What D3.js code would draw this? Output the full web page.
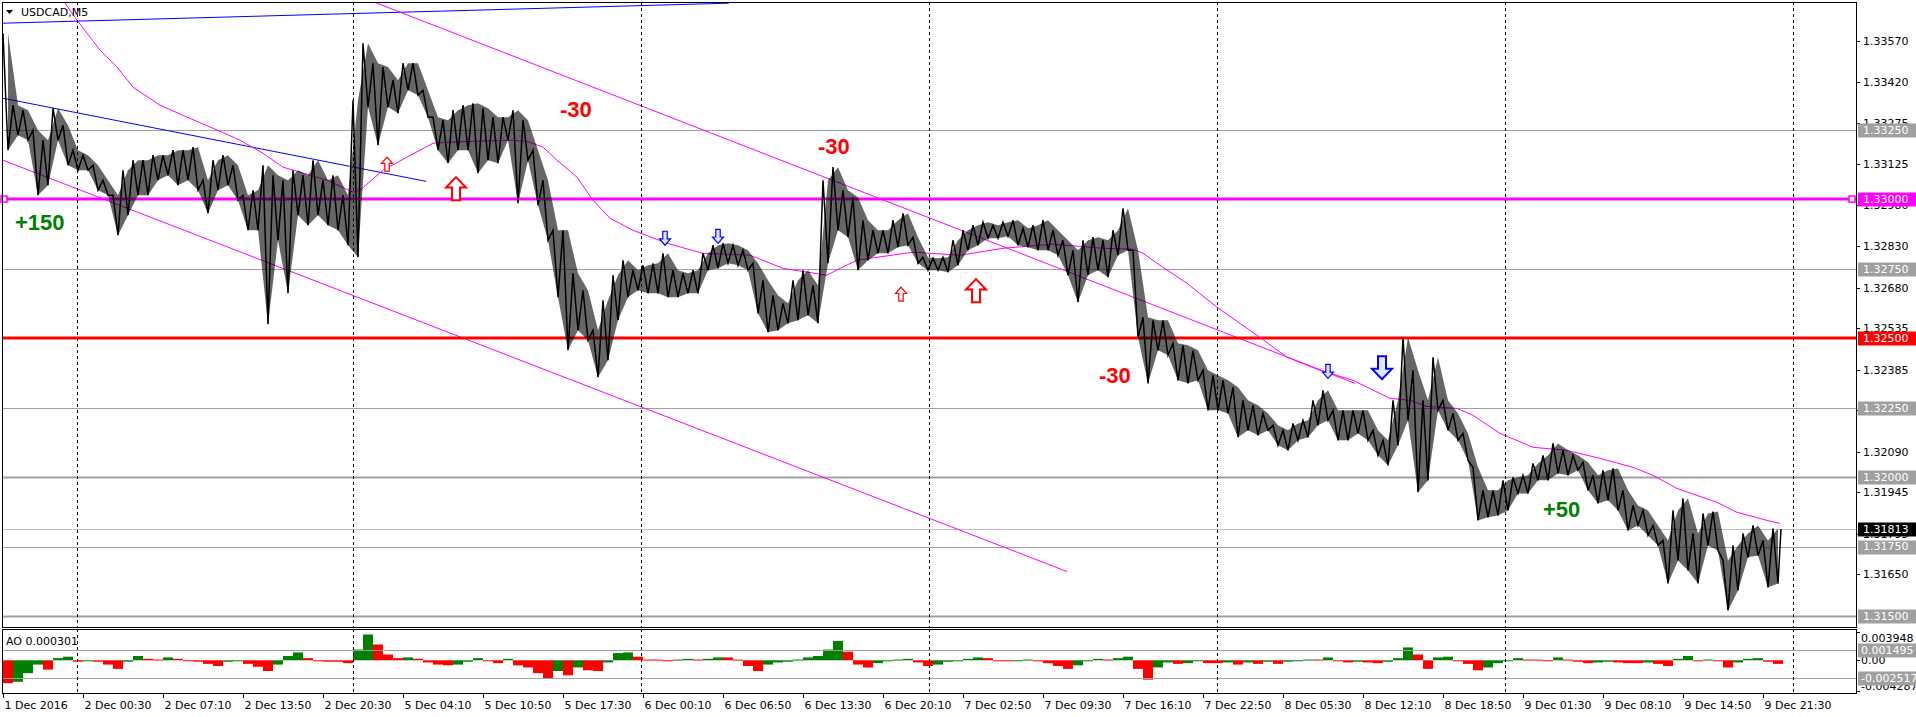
<!DOCTYPE html>
<html><head><meta charset="utf-8">
<script src="https://cdn.jsdelivr.net/npm/d3@7"></script>
<style>body{margin:0;background:#fff;} svg{display:block;}</style>
</head><body><svg id="c" width="1916" height="717"></svg>
<script>
// ---------- DATA ----------
const symbolTitle = "USDCAD,M5";
const aoTitle = "AO 0.000301";
const barStep = 10; // each sample covers 10 M5 bars
const priceHigh = [
1.33597,1.33338,1.33320,1.33248,1.33212,1.33327,1.33266,1.33176,1.33158,1.33122,
1.33068,1.33014,1.33104,1.33140,1.33140,1.33158,1.33158,1.33176,1.33176,1.33187,
1.33068,1.33140,1.33158,1.33122,1.33014,1.33032,1.33122,1.33086,1.33068,1.33104,
1.33086,1.33140,1.33068,1.33086,1.33014,1.33356,1.33561,1.33489,1.33475,1.33428,
1.33489,1.33489,1.33392,1.33295,1.33284,1.33320,1.33338,1.33345,1.33327,1.33295,
1.33295,1.33320,1.33284,1.33176,1.33068,1.32888,1.32888,1.32733,1.32672,1.32528,
1.32636,1.32726,1.32780,1.32744,1.32762,1.32769,1.32805,1.32744,1.32733,1.32744,
1.32805,1.32834,1.32841,1.32834,1.32816,1.32769,1.32708,1.32654,1.32625,1.32708,
1.32744,1.32690,1.33068,1.33115,1.33032,1.33007,1.32924,1.32888,1.32888,1.32924,
1.32949,1.32863,1.32791,1.32787,1.32791,1.32852,1.32888,1.32906,1.32917,1.32906,
1.32917,1.32924,1.32895,1.32906,1.32924,1.32888,1.32852,1.32816,1.32852,1.32863,
1.32852,1.32888,1.32967,1.32816,1.32575,1.32564,1.32564,1.32481,1.32474,1.32456,
1.32384,1.32366,1.32348,1.32323,1.32276,1.32258,1.32229,1.32186,1.32168,1.32193,
1.32204,1.32276,1.32312,1.32240,1.32240,1.32240,1.32240,1.32168,1.32132,1.32276,
1.32503,1.32384,1.32276,1.32431,1.32276,1.32229,1.32157,1.32035,1.31952,1.31952,
1.31988,1.31999,1.32006,1.32049,1.32078,1.32121,1.32096,1.32078,1.32053,1.32006,
1.32024,1.32031,1.31952,1.31898,1.31880,1.31826,1.31772,1.31880,1.31923,1.31797,
1.31869,1.31876,1.31700,1.31754,1.31797,1.31826,1.31772,1.31815];
const priceLow = [
1.33176,1.33230,1.33212,1.33014,1.33050,1.33212,1.33122,1.33104,1.33104,1.33032,
1.33014,1.32870,1.32942,1.33014,1.33014,1.33068,1.33086,1.33050,1.33068,1.33032,
1.32949,1.33032,1.33050,1.32996,1.32888,1.32888,1.32550,1.32852,1.32661,1.32942,
1.32906,1.32942,1.32906,1.32888,1.32834,1.32791,1.33331,1.33194,1.33331,1.33309,
1.33392,1.33374,1.33295,1.33176,1.33129,1.33176,1.33176,1.33093,1.33140,1.33129,
1.33212,1.32985,1.33140,1.32978,1.32852,1.32647,1.32456,1.32528,1.32492,1.32359,
1.32420,1.32564,1.32647,1.32672,1.32661,1.32661,1.32647,1.32647,1.32661,1.32661,
1.32744,1.32751,1.32769,1.32762,1.32744,1.32589,1.32521,1.32528,1.32553,1.32564,
1.32582,1.32553,1.32769,1.32888,1.32863,1.32744,1.32780,1.32805,1.32805,1.32827,
1.32834,1.32769,1.32744,1.32744,1.32737,1.32762,1.32816,1.32834,1.32859,1.32859,
1.32866,1.32834,1.32827,1.32816,1.32816,1.32798,1.32726,1.32629,1.32726,1.32744,
1.32719,1.32798,1.32816,1.32503,1.32337,1.32456,1.32438,1.32348,1.32337,1.32348,
1.32240,1.32240,1.32229,1.32143,1.32168,1.32150,1.32168,1.32114,1.32096,1.32132,
1.32143,1.32186,1.32204,1.32132,1.32132,1.32157,1.32132,1.32078,1.32042,1.32114,
1.32204,1.31945,1.31988,1.32240,1.32168,1.32132,1.32060,1.31844,1.31855,1.31862,
1.31880,1.31941,1.31941,1.31988,1.31988,1.32013,1.32006,1.32024,1.31952,1.31905,
1.31916,1.31880,1.31808,1.31826,1.31790,1.31754,1.31617,1.31700,1.31664,1.31617,
1.31754,1.31736,1.31520,1.31592,1.31711,1.31718,1.31603,1.31617];
const lastBar = 1778;
const lastClose = 1.31813;

const aoValues = [
-3.2,-3.0,-1.8,-0.6,-1.3,0.3,0.5,-0.2,-0.1,-0.2,
-0.6,-1.2,-0.2,0.6,0.2,0.1,0.4,0.2,-0.1,-0.2,
-0.5,-0.8,-0.2,0.0,-0.5,-0.9,-1.5,-0.6,0.6,1.1,
0.3,-0.1,-0.2,-0.2,-0.4,1.5,3.6,2.2,0.8,0.3,
0.4,0.2,-0.3,-0.6,-0.7,-0.6,-0.2,0.3,0.0,-0.4,
0.2,-0.7,-1.0,-1.8,-2.6,-1.5,-2.1,-1.0,-1.4,-1.5,
-0.3,1.0,1.1,0.5,0.1,0.1,0.0,0.1,0.2,0.1,
0.2,0.4,0.4,0.1,-0.8,-1.5,-0.6,-0.3,-0.2,0.1,
0.4,0.6,1.5,2.7,1.2,-0.6,-1.0,-0.4,-0.1,0.1,
0.2,-0.3,-0.8,-0.6,-0.2,-0.1,0.2,0.4,0.3,0.0,
-0.1,0.0,0.1,-0.1,-0.4,-0.8,-1.2,-0.7,-0.1,0.2,
0.1,0.3,0.5,-1.2,-2.7,-1.0,-0.3,-0.5,-0.4,-0.1,
-0.4,-0.4,-0.3,-0.6,-0.3,-0.5,-0.2,-0.5,-0.2,0.0,
0.1,0.1,0.4,0.0,-0.3,-0.2,-0.3,-0.4,-0.2,0.3,
1.8,0.8,-1.2,0.4,0.5,0.0,-0.5,-1.4,-1.0,-0.4,
0.0,0.3,0.1,0.1,0.0,0.4,0.1,-0.2,-0.4,-0.3,
-0.2,-0.3,-0.4,-0.4,-0.3,-0.5,-0.8,0.2,0.6,-0.1,
0.1,0.0,-1.0,-0.3,0.2,0.3,-0.2,-0.5]; // in units of 0.001

const maBars = [52,60,74,97,114,130,157,184,210,237,260,280,297,324,350,357,380,404,430,447,507,524,540,554,574,590,607,630,664,700,747,780,824,837,854,867,910,957,1000,1050,1100,1130,1140,1157,1184,1214,1254,1284,1317,1350,1387,1407,1424,1454,1470,1497,1530,1564,1597,1630,1650,1674,1714,1734,1764,1777];
const maValues = [1.33788,1.33716,1.33644,1.33536,1.33475,1.33403,1.33338,1.33295,1.33255,1.33212,1.33165,1.33115,1.33097,1.33068,1.33025,1.33032,1.33104,1.33151,1.33201,1.33205,1.33212,1.33208,1.33187,1.33140,1.33079,1.32996,1.32931,1.32888,1.32841,1.32805,1.32798,1.32751,1.32726,1.32751,1.32780,1.32787,1.32809,1.32798,1.32823,1.32838,1.32823,1.32820,1.32805,1.32762,1.32697,1.32611,1.32510,1.32431,1.32384,1.32348,1.32283,1.32276,1.32254,1.32247,1.32222,1.32157,1.32107,1.32096,1.32067,1.32035,1.32006,1.31959,1.31909,1.31873,1.31844,1.31833];

const blueTopBars = [0, 726], blueTopPrices = [1.33633, 1.33705];
const blueMidBars = [0, 423], blueMidPrices = [1.33363, 1.33064];
const channelUpBars = [369, 1352], channelUpPrices = [1.33712, 1.32337];
const channelLowBars = [0, 1064], channelLowPrices = [1.33140, 1.31660];

const magentaLevel = 1.33000;
const redLevel = 1.32500;
const greyLevels = [1.33250, 1.32750, 1.32250, 1.32000, 1.31750, 1.31500];
const heavyGreyLevels = [1.32000, 1.31500];

const priceTicks = [1.33570,1.33420,1.33275,1.33125,1.32980,1.32830,1.32680,1.32535,1.32385,1.32240,1.32090,1.31945,1.31795,1.31650];

const timeTickBars = [0,80,160,240,320,400,480,560,640,720,800,880,960,1040,1120,1200,1280,1360,1440,1520,1600,1680,1760];
const timeTickLabels = ["1 Dec 2016","2 Dec 00:30","2 Dec 07:10","2 Dec 13:50","2 Dec 20:30","5 Dec 04:10","5 Dec 10:50","5 Dec 17:30","6 Dec 00:10","6 Dec 06:50","6 Dec 13:30","6 Dec 20:10","7 Dec 02:50","7 Dec 09:30","7 Dec 16:10","7 Dec 22:50","8 Dec 05:30","8 Dec 12:10","8 Dec 18:50","9 Dec 01:30","9 Dec 08:10","9 Dec 14:50","9 Dec 21:30"];
const daySeparatorBars = [74,350,638,926,1214,1502,1790];

const arrowBars = [384,453,662,715,898,973,1325,1379];
const arrowPrices = [1.33151,1.33079,1.32834,1.32841,1.32683,1.32712,1.32355,1.32352];
const arrowDirs = ["up","up","down","down","up","up","down","down"];
const arrowBig = [false,true,false,false,false,true,false,true];

const noteTexts = ["+150","-30","-30","-30","+50"];
const noteBars = [12,557,815,1096,1540];
const notePrices = [1.32888,1.33295,1.33162,1.32337,1.31855];

const aoAxisTicks = [0.003948, 0.00, -0.004287];
const aoLevels = [0.001495, -0.002517];

// ---------- LAYOUT ----------
const W = 1916, H = 717;
const L = 2, R = 1856, mainTop = 2, mainBot = 627, aoTop = 629, aoBot = 693;
const FONT = "'DejaVu Sans', sans-serif";
const svg = d3.select("#c");
const x = d3.scaleLinear().domain([0, 1853]).range([3, 1856]);
const y = d3.scaleLinear().domain([1.31650, 1.33570]).range([574.3, 40.7]);
const yAO = d3.scaleLinear().domain([-0.004287, 0.003948]).range([691, 632]);

const defs = svg.append("defs");
defs.append("clipPath").attr("id","clipMain").append("rect").attr("x",L+1).attr("y",mainTop+1).attr("width",R-L-1).attr("height",mainBot-mainTop-1);
defs.append("clipPath").attr("id","clipAO").append("rect").attr("x",L+1).attr("y",aoTop+1).attr("width",R-L-1).attr("height",aoBot-aoTop-1);
defs.append("clipPath").attr("id","clipAOAxis").append("rect").attr("x",R).attr("y",aoTop).attr("width",W-R).attr("height",aoBot-aoTop+1);

svg.append("rect").attr("width",W).attr("height",H).attr("fill","#fff");

const gMain = svg.append("g").attr("clip-path","url(#clipMain)");
const gAO = svg.append("g").attr("clip-path","url(#clipAO)");

function txt(g, xx, yy, s, size, color) {
  return g.append("text").attr("x",xx).attr("y",yy).text(s)
    .style("font-family", FONT).style("font-size", size + "px").attr("fill", color);
}

// day separators
daySeparatorBars.forEach(b => {
  const xx = Math.round(x(b)) + 0.5;
  [[mainTop, mainBot],[aoTop, aoBot]].forEach(([a,c]) => {
    svg.append("line").attr("x1",xx).attr("x2",xx).attr("y1",a).attr("y2",c)
      .attr("stroke","#000").attr("stroke-width",1).attr("stroke-dasharray","3,3");
  });
});

// grey levels
greyLevels.forEach(p => {
  const yy = Math.round(y(p)) + 0.5;
  gMain.append("line").attr("x1",L).attr("x2",R).attr("y1",yy).attr("y2",yy)
    .attr("stroke","#a0a0a0").attr("stroke-width", heavyGreyLevels.includes(p) ? 2 : 1);
});
// current price line
{
  const yy = Math.round(y(lastClose)) + 0.5;
  gMain.append("line").attr("x1",L).attr("x2",R).attr("y1",yy).attr("y2",yy).attr("stroke","#c0c0c0").attr("stroke-width",1);
}

// trend lines
const tl = d3.line().x(d => x(d[0])).y(d => y(d[1]));
function trend(bars, prices, color, w) {
  gMain.append("path").attr("d", tl(bars.map((b,i)=>[b,prices[i]]))).attr("fill","none").attr("stroke",color).attr("stroke-width",w);
}
trend(blueTopBars, blueTopPrices, "#0000ff", 1);
trend(blueMidBars, blueMidPrices, "#0000ff", 1);
trend(channelUpBars, channelUpPrices, "#ff00ff", 1);
trend(channelLowBars, channelLowPrices, "#ff00ff", 1);

// magenta + red levels
{
  const ym = y(magentaLevel);
  gMain.append("line").attr("x1",L).attr("x2",R).attr("y1",ym).attr("y2",ym).attr("stroke","#ff00ff").attr("stroke-width",3);
  [x(1), R-4].forEach(xx => svg.append("rect").attr("x",xx-3).attr("y",ym-3).attr("width",6).attr("height",6).attr("fill","#fff").attr("stroke","#ff00ff").attr("stroke-width",1.5));
  const yr = y(redLevel);
  gMain.append("line").attr("x1",L).attr("x2",R).attr("y1",yr).attr("y2",yr).attr("stroke","#ff0000").attr("stroke-width",3);
}

// moving average
gMain.append("path").attr("d", tl(maBars.map((b,i)=>[b,maValues[i]]))).attr("fill","none").attr("stroke","#ff00ff").attr("stroke-width",1);

// price series: hi/lo band + zigzag per sample
const band = d3.area().x((d,i) => x(i*barStep + barStep/2)).y0(d => y(d[1])).y1(d => y(d[0]));
gMain.append("path").attr("d", band(priceHigh.map((h,i)=>[h, priceLow[i]])))
  .attr("fill","#000").attr("fill-opacity",0.6);
const pts = [];
priceHigh.forEach((h,i) => {
  pts.push([i*barStep, h]);
  pts.push([i*barStep + barStep/2, priceLow[i]]);
});
pts.push([lastBar, lastClose]);
gMain.append("path").attr("d", tl(pts)).attr("fill","none").attr("stroke","#000").attr("stroke-width",1.5).attr("stroke-linejoin","miter");

// arrows
arrowBars.forEach((b,i) => {
  const cx = x(b), tip = y(arrowPrices[i]);
  const big = arrowBig[i];
  const w = big ? 20 : 11, h = big ? 23 : 14, hh = h*0.45, sw = w*0.4;
  const s = arrowDirs[i] === "up" ? 1 : -1;
  const P = [[0,0],[w/2,hh],[sw/2,hh],[sw/2,h],[-sw/2,h],[-sw/2,hh],[-w/2,hh]].map(([a,c]) => [cx+a, tip + s*c]);
  const color = arrowDirs[i] === "up" ? "#ff0000" : "#0000ff";
  gMain.append("polygon").attr("points", P.map(p=>p.join(",")).join(" "))
    .attr("fill", arrowDirs[i]==="up" ? "#fff" : "#dfe6ff").attr("stroke", color).attr("stroke-width", big ? 2 : 1.2);
});

// notes
noteTexts.forEach((t,i) => {
  gMain.append("text").attr("x", x(noteBars[i])).attr("y", y(notePrices[i])).text(t)
    .style("font-family","'Liberation Sans', Arial, sans-serif").style("font-weight","bold").style("font-size","22px")
    .attr("fill", t.startsWith("+") ? "#008000" : "#ff0000");
});

// AO histogram
const yz = yAO(0);
aoValues.forEach((v,i) => {
  const val = v/1000;
  const up = i > 0 && v > aoValues[i-1];
  const y1 = yAO(val);
  gAO.append("rect").attr("x", x(i*barStep)).attr("width", barStep)
    .attr("y", Math.min(y1,yz)).attr("height", Math.max(1, Math.abs(y1-yz)))
    .attr("fill", up ? "#008000" : "#ff0000");
});
aoLevels.forEach(v => {
  const yy = Math.round(yAO(v)) + 0.5;
  gAO.append("line").attr("x1",L).attr("x2",R).attr("y1",yy).attr("y2",yy).attr("stroke","#a0a0a0").attr("stroke-width",1);
});

// panel frames
svg.append("rect").attr("x",L+0.5).attr("y",mainTop+0.5).attr("width",R-L).attr("height",mainBot-mainTop).attr("fill","none").attr("stroke","#000");
svg.append("rect").attr("x",L+0.5).attr("y",aoTop+0.5).attr("width",R-L).attr("height",aoBot-aoTop).attr("fill","none").attr("stroke","#000");

// title
svg.append("polygon").attr("points","6,10 13,10 9.5,14").attr("fill","#000");
txt(svg, 21, 16, symbolTitle, 11, "#000");
txt(svg, 6, 645, aoTitle, 11, "#000");

// price axis
priceTicks.forEach(p => {
  const yy = y(p);
  svg.append("line").attr("x1",R).attr("x2",R+4).attr("y1",Math.round(yy)+0.5).attr("y2",Math.round(yy)+0.5).attr("stroke","#000");
  txt(svg, R+7, yy, p.toFixed(5), 11, "#000").attr("dy","0.36em");
});
// price boxes
function box(yy, s, bg) {
  svg.append("rect").attr("x",R+2).attr("y",Math.round(yy)-6.5).attr("width",W-R-2).attr("height",14).attr("fill",bg);
  txt(svg, R+7, yy, s, 11, "#fff").attr("dy","0.36em");
}
greyLevels.forEach(p => box(y(p), p.toFixed(5), "#a0a0a0"));
box(y(magentaLevel), magentaLevel.toFixed(5), "#ff00ff");
box(y(redLevel), redLevel.toFixed(5), "#ff0000");
box(y(lastClose), lastClose.toFixed(5), "#000");

// AO axis
const gAOAxis = svg.append("g").attr("clip-path","url(#clipAOAxis)");
aoAxisTicks.forEach(v => {
  const yy = Math.min(Math.max(yAO(v), 638), 686);
  gAOAxis.append("line").attr("x1",R).attr("x2",R+4).attr("y1",Math.round(yAO(v))+0.5).attr("y2",Math.round(yAO(v))+0.5).attr("stroke","#000");
  txt(gAOAxis, R+5, yy, v === 0 ? "0.00" : v.toFixed(6), 11, "#000").attr("dy","0.36em");
});
aoLevels.forEach(v => {
  const yy = yAO(v);
  gAOAxis.append("rect").attr("x",R+2).attr("y",Math.round(yy)-6.5).attr("width",W-R-2).attr("height",14).attr("fill","#a0a0a0");
  txt(gAOAxis, R+5, yy, v.toFixed(6), 11, "#fff").attr("dy","0.36em");
});

// time axis
timeTickBars.forEach((b,i) => {
  const xx = Math.round(x(b)) + 0.5;
  svg.append("line").attr("x1",xx).attr("x2",xx).attr("y1",aoBot).attr("y2",aoBot+5).attr("stroke","#000");
  txt(svg, xx+1, 709, timeTickLabels[i], 11, "#000");
});
</script></body></html>
